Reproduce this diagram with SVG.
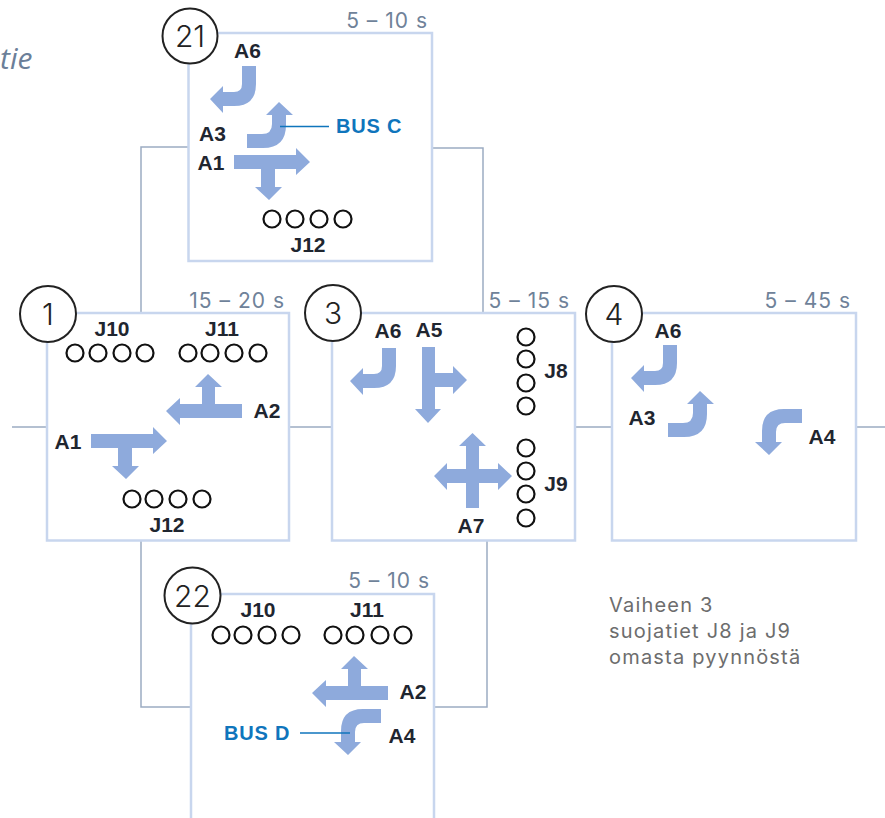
<svg xmlns="http://www.w3.org/2000/svg" width="885" height="818" viewBox="0 0 885 818">
<style>
.box{fill:#fff;stroke:#c8d6ee;stroke-width:2.5}
.conn{fill:none;stroke:#9cacc2;stroke-width:1.5}
.arr{fill:#8eaadc}
.badge{fill:#fff;stroke:#222;stroke-width:2}
.num{font-family:"Inter","Liberation Sans",sans-serif;font-weight:300;font-size:30px;fill:#222;text-anchor:middle}
.time{font-family:"Inter","Liberation Sans",sans-serif;font-weight:400;font-size:21px;fill:#6f8299;text-anchor:end;letter-spacing:1px}
.lab{font-family:"Liberation Sans",Arial,sans-serif;font-weight:700;font-size:21px;fill:#1f2630;text-anchor:middle}
.bus{font-family:"Liberation Sans",Arial,sans-serif;font-weight:700;font-size:20px;fill:#0f75bc;letter-spacing:.8px}
.lead{fill:none;stroke:#0f75bc;stroke-width:1.3}
.ped{fill:none;stroke:#111;stroke-width:2.2}
.note{font-family:"Inter","Liberation Sans",sans-serif;font-size:20px;fill:#6d6d6d;letter-spacing:1.2px}
.tie{font-family:"Open Sans","Liberation Sans",sans-serif;font-style:italic;font-size:30px;fill:#6b7f99}
</style>
<defs>
<path id="tl" d="M0 0H14V18Q14 40-8 40H-19V47L-32 33L-19 20V26H-8Q0 26 0 18Z"/>
<path id="tr" d="M0 0H15Q25 0 25 -10V-19H19L32 -32L46 -19H39V-9Q39 14 16 14H0Z"/>
<path id="rd" d="M0 0V14H-17Q-26 14-26 23V33H-20L-33 46L-47 33H-40V22Q-40 0-18 0Z"/>
<path id="t1" d="M0 0H62V-7L76 7L62 20V14H41V32H48L35 45L21 32H27V14H0Z"/>
<path id="t2" d="M0 0V14H-62V21L-76 7L-62-6V0H-40V-17H-47L-34-30L-20-17H-27V0Z"/>
<g id="p4"><circle cx="0" cy="0" r="8.500"/></g>
</defs>
<text class="tie" x="0" y="69">tie</text>
<g id="connectors" class="conn">
<path d="M190 147H141V314"/>
<path d="M432 148H483V314"/>
<path d="M141 540V707H192"/>
<path d="M487 540V707H434"/>
<path d="M12 427H47M289 427H332M575 427H612M856 427H885"/>
</g>
<g id="node21">
<rect class="box" x="188.500" y="33" width="243.500" height="228"/>
<use href="#tl" class="arr" x="242" y="66"/>
<use href="#tr" class="arr" x="247" y="134"/>
<use href="#t1" class="arr" x="234" y="155"/>
<path class="lead" d="M280 126.500H329"/>
<circle class="badge" cx="190" cy="36" r="27.500"/>
<text class="num" x="190" y="47">21</text>
<text class="time" x="428" y="28">5 – 10 s</text>
<text class="lab" x="247.500" y="58">A6</text>
<text class="lab" x="212.500" y="141">A3</text>
<text class="lab" x="211" y="170">A1</text>
<text class="lab" x="308" y="252">J12</text>
<text class="bus" x="336" y="133">BUS C</text>
<g class="ped"><use href="#p4" x="272" y="219"/><use href="#p4" x="295" y="219"/><use href="#p4" x="319" y="219"/><use href="#p4" x="343" y="219"/></g>
</g>
<g id="node1">
<rect class="box" x="47" y="313" width="242" height="227.500"/>
<use href="#t1" class="arr" x="91" y="434"/>
<use href="#t2" class="arr" x="242" y="404"/>
<circle class="badge" cx="48" cy="314" r="28"/>
<text class="num" x="48" y="325">1</text>
<text class="time" x="285" y="308">15 – 20 s</text>
<text class="lab" x="112" y="336">J10</text>
<text class="lab" x="222" y="336">J11</text>
<text class="lab" x="267" y="418">A2</text>
<text class="lab" x="68" y="449">A1</text>
<text class="lab" x="167" y="532">J12</text>
<g class="ped"><use href="#p4" x="75" y="353"/><use href="#p4" x="98" y="353"/><use href="#p4" x="122" y="353"/><use href="#p4" x="145" y="353"/><use href="#p4" x="188" y="353"/><use href="#p4" x="210" y="353"/><use href="#p4" x="234" y="353"/><use href="#p4" x="258" y="353"/><use href="#p4" x="132" y="499"/><use href="#p4" x="154" y="499"/><use href="#p4" x="178" y="499"/><use href="#p4" x="202" y="499"/></g>
</g>
<g id="node3">
<rect class="box" x="332" y="313" width="243" height="227.500"/>
<use href="#tl" class="arr" x="382" y="348"/>
<path class="arr" d="M422 347H435V373H453V366L467 380L453 394V387H435V409H441L428 423L415 409H422Z"/>
<path class="arr" d="M466 508V483H447V490L434 476L447 463V469H466V446H459L472.500 433L486 446H479V469H498V463L512 476L498 490V483H479V508Z"/>
<circle class="badge" cx="333" cy="313" r="28"/>
<text class="num" x="333" y="324">3</text>
<text class="time" x="570" y="308">5 – 15 s</text>
<text class="lab" x="388" y="338">A6</text>
<text class="lab" x="429" y="337">A5</text>
<text class="lab" x="556" y="378">J8</text>
<text class="lab" x="556" y="491">J9</text>
<text class="lab" x="471" y="533">A7</text>
<g class="ped"><use href="#p4" x="526" y="337"/><use href="#p4" x="526" y="359"/><use href="#p4" x="526" y="383"/><use href="#p4" x="526" y="406"/><use href="#p4" x="526" y="448"/><use href="#p4" x="526" y="471"/><use href="#p4" x="526" y="494"/><use href="#p4" x="526" y="518"/></g>
</g>
<g id="node4">
<rect class="box" x="612" y="313" width="244" height="227.500"/>
<use href="#tl" class="arr" x="663" y="345"/>
<use href="#tr" class="arr" x="668" y="423"/>
<use href="#rd" class="arr" x="802" y="409"/>
<circle class="badge" cx="614" cy="314" r="28"/>
<text class="num" x="614" y="325">4</text>
<text class="time" x="851" y="308">5 – 45 s</text>
<text class="lab" x="668" y="338">A6</text>
<text class="lab" x="642" y="425">A3</text>
<text class="lab" x="822" y="444">A4</text>
</g>
<g id="node22">
<path class="box" d="M191 818V594H434V818"/>
<use href="#t2" class="arr" x="388" y="686"/>
<use href="#rd" class="arr" x="381" y="709"/>
<path class="lead" d="M300 733H350"/>
<circle class="badge" cx="192.500" cy="595.500" r="28"/>
<text class="num" x="192.500" y="606.500">22</text>
<text class="time" x="430" y="588">5 – 10 s</text>
<text class="lab" x="258" y="617">J10</text>
<text class="lab" x="367" y="617">J11</text>
<text class="lab" x="413" y="699">A2</text>
<text class="lab" x="402" y="743">A4</text>
<text class="bus" x="224" y="740">BUS D</text>
<g class="ped"><use href="#p4" x="221" y="635"/><use href="#p4" x="243" y="635"/><use href="#p4" x="267" y="635"/><use href="#p4" x="291" y="635"/><use href="#p4" x="333" y="635"/><use href="#p4" x="355" y="635"/><use href="#p4" x="380" y="635"/><use href="#p4" x="403" y="635"/></g>
</g>
<text class="note" x="609" y="612">Vaiheen 3</text>
<text class="note" x="609" y="638">suojatiet J8 ja J9</text>
<text class="note" x="609" y="664">omasta pyynnöstä</text>
</svg>
